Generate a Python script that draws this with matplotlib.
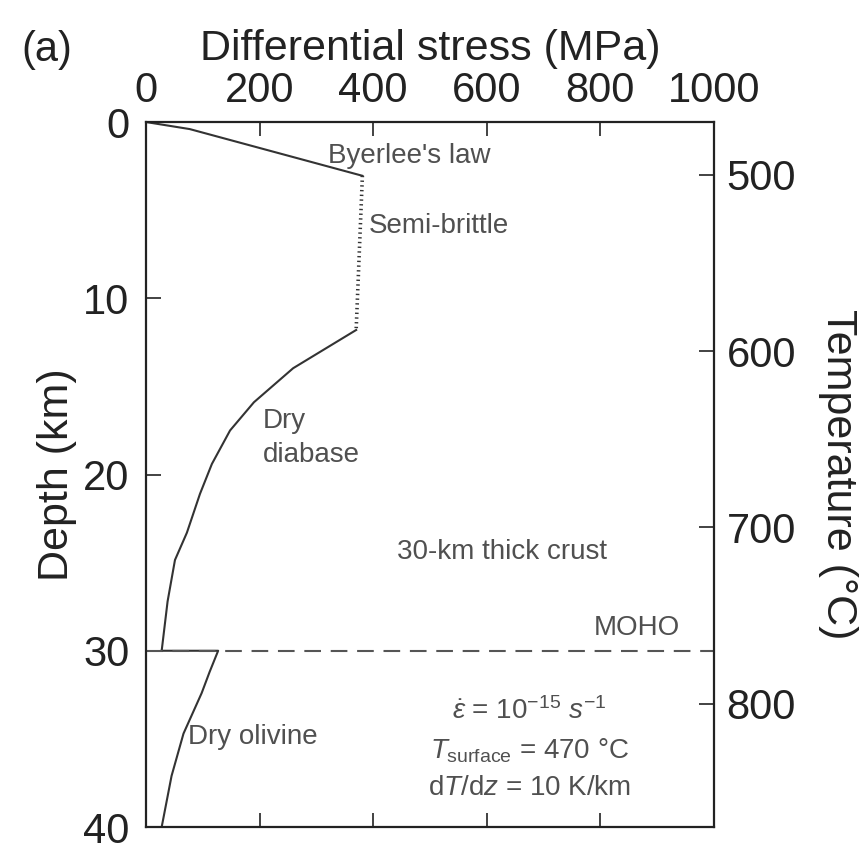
import matplotlib
matplotlib.use("Agg")
import matplotlib.pyplot as plt

plt.rcParams['font.family'] = ['Liberation Sans', 'DejaVu Sans']
plt.rcParams['mathtext.fontset'] = 'custom'
plt.rcParams['mathtext.rm'] = 'Liberation Sans'
plt.rcParams['mathtext.it'] = 'Liberation Sans:italic'
plt.rcParams['lines.scale_dashes'] = False

# strength envelope pieces (stress in MPa, depth in km)
byerlee_stress = [0, 77, 381]
byerlee_depth = [0, 0.4, 3.05]

semibrittle_stress = [381, 370]
semibrittle_depth = [3.05, 11.8]

diabase_stress = [370, 283, 259, 190, 148, 116, 95, 72, 51, 38, 27.6]
diabase_depth = [11.8, 13.5, 13.97, 15.9, 17.5, 19.4, 21.1, 23.3, 24.85, 27.2, 30.0]

olivine_stress = [27.6, 127, 112, 98, 66, 45, 27.6]
olivine_depth = [30.0, 30.0, 31.2, 32.4, 34.7, 37.1, 40.0]

moho_depth = 30
t_surface = 470      # degC
grad = 10            # K/km
stress_ticks = [0, 200, 400, 600, 800, 1000]
depth_ticks = [0, 10, 20, 30, 40]
temp_ticks = [500, 600, 700, 800]

ink = '#222222'
grey = '#505050'
big = 30
small = 20

fig = plt.figure(figsize=(8.67, 8.51), dpi=100)
ax = fig.add_axes([0.1684, 0.0282, 0.6551, 0.8284])

ax.plot(byerlee_stress, byerlee_depth, color='#333333', lw=1.5)
ax.plot(semibrittle_stress, semibrittle_depth, color='#333333', lw=2.6,
        dashes=(1.0, 2.4))
ax.plot(diabase_stress, diabase_depth, color='#333333', lw=1.5)
ax.plot(olivine_stress, olivine_depth, color='#333333', lw=1.5)
ax.plot([0, 1000], [moho_depth, moho_depth], color='#555555', lw=1.5,
        dashes=(12, 7))

ax.set_xlim(0, 1000)
ax.set_ylim(40, 0)
ax.set_xticks(stress_ticks)
ax.set_yticks(depth_ticks)
ax.xaxis.tick_top()
ax.xaxis.set_label_position('top')
ax.tick_params(axis='x', direction='in', top=True, bottom=True,
               labeltop=True, labelbottom=False, length=10, width=1.2,
               pad=8, labelsize=big, colors=ink)
ax.tick_params(axis='y', direction='in', left=True, right=False,
               length=11, width=1.2, pad=12, labelsize=big, colors=ink)
ax.set_xlabel('Differential stress (MPa)', fontsize=big + 1, color=ink,
              labelpad=8)
ax.set_ylabel('Depth (km)', fontsize=big + 1, color=ink, labelpad=4)
for s in ax.spines.values():
    s.set_linewidth(1.6)
    s.set_color(ink)

# temperature scale follows the linear geotherm
ax2 = ax.twinx()
ax2.set_ylim(t_surface + grad * 40, t_surface)
ax2.set_yticks(temp_ticks)
ax2.tick_params(axis='y', direction='in', length=11, width=1.2, pad=9,
                labelsize=big, colors=ink)
ax2.set_ylabel('Temperature (°C)', fontsize=big + 1, color=ink,
               rotation=270, va='bottom', labelpad=16)
for s in ax2.spines.values():
    s.set_visible(False)

ax.text(463, 1.9, "Byerlee's law", fontsize=small, color=grey,
        ha='center', va='center')
ax.text(392, 5.9, 'Semi-brittle', fontsize=small, color=grey,
        ha='left', va='center')
ax.text(205, 17.95, 'Dry\ndiabase', fontsize=small, color=grey,
        ha='left', va='center', linespacing=1.4)
ax.text(627, 24.4, '30-km thick crust', fontsize=small, color=grey,
        ha='center', va='center')
ax.text(864, 28.7, 'MOHO', fontsize=small, color=grey,
        ha='center', va='center')
ax.text(74, 34.9, 'Dry olivine', fontsize=small, color=grey,
        ha='left', va='center')
ax.text(675, 33.4, r'$\dot{\varepsilon}$ = 10$^{-15}$ $s^{-1}$',
        fontsize=small, color=grey, ha='center', va='center')
ax.text(675, 35.7, r'$T_{\rm surface}$ = 470 °C',
        fontsize=small, color=grey, ha='center', va='center')
ax.text(675, 37.8, r'd$T$/d$z$ = 10 K/km',
        fontsize=small, color=grey, ha='center', va='center')

fig.text(0.025, 1 - 50 / 851, '(a)', fontsize=big, color=ink,
         ha='left', va='center')

fig.savefig('out.png', dpi=100)
